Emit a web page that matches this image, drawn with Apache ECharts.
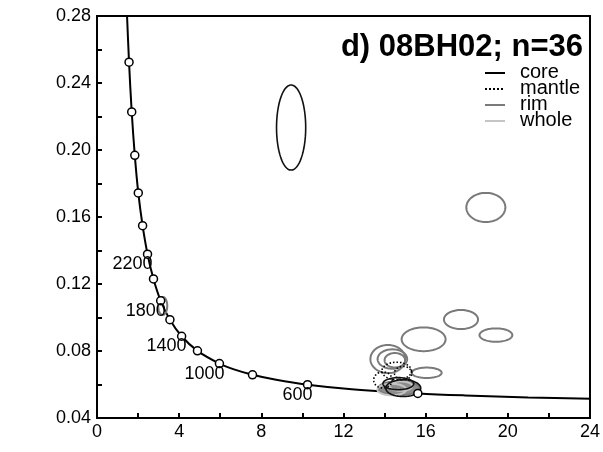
<!DOCTYPE html>
<html>
<head>
<meta charset="utf-8">
<script src="https://cdn.jsdelivr.net/npm/echarts@6/dist/echarts.min.js"></script>
<style>
html,body{margin:0;padding:0;background:#fff;}
#chart{width:603px;height:452px;}
</style>
</head>
<body>
<div id="chart"></div>
<script>
// ---- Data ----
const xTicks = [0, 4, 8, 12, 16, 20, 24];
const yTicks = [0.04, 0.08, 0.12, 0.16, 0.20, 0.24, 0.28];

// Concordia curve (238U/206Pb vs 207Pb/206Pb)
const concordiaX = [1.44, 1.56, 1.69, 1.84, 2.01, 2.22, 2.46, 2.75, 3.10, 3.55, 4.12, 4.89, 5.96, 6.67, 7.57, 8.72, 10.25, 12.40, 15.62, 17.92, 20.99, 24.30];
const concordiaY = [0.2867, 0.2524, 0.2227, 0.1968, 0.1744, 0.1548, 0.1378, 0.1230, 0.1100, 0.0987, 0.0888, 0.0801, 0.0725, 0.0690, 0.0658, 0.0628, 0.0599, 0.0572, 0.0547, 0.0535, 0.0523, 0.0514];

// Age marks on the concordia (Ma)
const markAges = [400, 600, 800, 1000, 1200, 1400, 1600, 1800, 2000, 2200, 2400, 2600, 2800, 3000, 3200];
const markX = [15.62, 10.25, 7.57, 5.96, 4.89, 4.12, 3.55, 3.10, 2.75, 2.46, 2.22, 2.01, 1.84, 1.69, 1.56];
const markY = [0.0547, 0.0599, 0.0658, 0.0725, 0.0801, 0.0888, 0.0987, 0.1100, 0.1230, 0.1378, 0.1548, 0.1744, 0.1968, 0.2227, 0.2524];
const labeledAges = [600, 1000, 1400, 1800, 2200];

// Error ellipses: [centre x, centre y, half-width x, half-height y]
const coreEllipses = [
  [9.45, 0.2134, 0.71, 0.0254],
  [14.91, 0.0578, 0.85, 0.0050],
  [14.67, 0.0605, 0.75, 0.0036]
];
const mantleEllipses = [
  [14.59, 0.0681, 0.72, 0.0052],
  [13.92, 0.0627, 0.45, 0.0048],
  [14.90, 0.0668, 0.42, 0.0040]
];
const rimEllipses = [
  [18.93, 0.1657, 0.95, 0.0087],
  [17.72, 0.0988, 0.83, 0.0057],
  [15.90, 0.0870, 1.07, 0.0071],
  [19.42, 0.0895, 0.80, 0.0040],
  [16.05, 0.0670, 0.73, 0.0031],
  [14.16, 0.0752, 0.85, 0.0084],
  [14.38, 0.0752, 0.72, 0.0058],
  [14.50, 0.0745, 0.50, 0.0043],
  [3.20, 0.1069, 0.22, 0.0054]
];
const rimFilledEllipses = [
  [14.70, 0.0578, 1.00, 0.0042]
];
const wholeEllipses = [
  [14.35, 0.0570, 0.70, 0.0034],
  [14.80, 0.0590, 0.55, 0.0028]
];

// ---- Chart ----
const chart = echarts.init(document.getElementById('chart'), null, {renderer: 'canvas'});
const FONT = '"Liberation Sans", Arial, Helvetica, sans-serif';

function ellipseSeries(name, data, stroke, lineWidth, dash, fill, z) {
  return {
    type: 'custom',
    name: name,
    coordinateSystem: 'cartesian2d',
    clip: true,
    z: z,
    encode: {x: 0, y: 1},
    data: data,
    renderItem: function (params, api) {
      const cx = api.value(0), cy = api.value(1), rx = api.value(2), ry = api.value(3);
      const pts = [];
      const N = 90;
      for (let i = 0; i < N; i++) {
        const t = i / N * 2 * Math.PI;
        pts.push(api.coord([cx + rx * Math.cos(t), cy + ry * Math.sin(t)]));
      }
      return {
        type: 'polygon',
        shape: {points: pts},
        style: {
          fill: fill || 'none',
          stroke: stroke,
          lineWidth: lineWidth,
          lineDash: dash || null
        }
      };
    }
  };
}

const curveData = concordiaX.map((x, i) => [x, concordiaY[i]]);
const markData = markX.map((x, i) => {
  const age = markAges[i];
  return {
    value: [x, markY[i]],
    label: {show: labeledAges.indexOf(age) >= 0, formatter: String(age)}
  };
});

const option = {
  animation: false,
  backgroundColor: '#fff',
  grid: {
    left: 97, right: 11, top: 16, bottom: 34,
    show: true, borderColor: '#000', borderWidth: 2, backgroundColor: 'transparent'
  },
  xAxis: {
    type: 'value', min: 0, max: 24, interval: 4,
    axisLine: {show: true, onZero: false, lineStyle: {color: '#000', width: 2}},
    axisTick: {show: true, inside: true, length: 5, lineStyle: {color: '#000', width: 2}},
    minorTick: {show: true, splitNumber: 2, length: 5, lineStyle: {color: '#000', width: 2}},
    splitLine: {show: false},
    axisLabel: {color: '#000', fontSize: 18, fontFamily: FONT, margin: 5,
      formatter: v => (xTicks.indexOf(v) >= 0 ? String(v) : '')}
  },
  yAxis: {
    type: 'value', min: 0.04, max: 0.28, interval: 0.04,
    axisLine: {show: true, onZero: false, lineStyle: {color: '#000', width: 2}},
    axisTick: {show: true, inside: true, length: 5, lineStyle: {color: '#000', width: 2}},
    minorTick: {show: true, splitNumber: 2, length: 5, lineStyle: {color: '#000', width: 2}},
    splitLine: {show: false},
    axisLabel: {color: '#000', fontSize: 18, fontFamily: FONT, margin: 6,
      formatter: v => {
        const s = v.toFixed(2);
        return yTicks.some(t => t.toFixed(2) === s) ? s : '';
      }}
  },
  series: [
    {
      type: 'line', name: 'concordia', data: curveData, smooth: 0.35,
      showSymbol: false, symbol: 'none', clip: true, z: 2,
      lineStyle: {color: '#000', width: 2}
    },
    ellipseSeries('rim', rimEllipses, '#7a7a7a', 2, null, null, 3),
    ellipseSeries('rimFilled', rimFilledEllipses, '#7a7a7a', 2, null, '#8c8c8c', 3),
    ellipseSeries('whole', wholeEllipses, '#c4c4c4', 2, null, null, 4),
    ellipseSeries('mantle', mantleEllipses, '#000', 1.6, [1.5, 2], null, 5),
    ellipseSeries('core', coreEllipses, '#111', 1.6, null, null, 5),
    {
      type: 'scatter', name: 'ages', data: markData, z: 6,
      symbol: 'circle', symbolSize: 8,
      itemStyle: {color: '#fff', borderColor: '#000', borderWidth: 1.5, opacity: 1},
      label: {
        position: 'inside', align: 'right', verticalAlign: 'middle',
        offset: [5, 10], color: '#000', fontSize: 18, fontFamily: FONT,
        textBorderWidth: 0, textBorderColor: 'transparent'
      }
    }
  ],
  graphic: [
    {type: 'text', z: 10,
      style: {x: 583, y: 47, text: 'd) 08BH02; n=36', fill: '#000',
        font: 'bold 31px ' + FONT, align: 'right', verticalAlign: 'middle'}},
    {type: 'line', z: 10, shape: {x1: 485, y1: 73, x2: 505, y2: 73}, style: {stroke: '#000', lineWidth: 2}},
    {type: 'line', z: 10, shape: {x1: 485, y1: 89, x2: 505, y2: 89}, style: {stroke: '#000', lineWidth: 2, lineDash: [2, 2]}},
    {type: 'line', z: 10, shape: {x1: 485, y1: 105, x2: 505, y2: 105}, style: {stroke: '#7a7a7a', lineWidth: 2}},
    {type: 'line', z: 10, shape: {x1: 485, y1: 121, x2: 505, y2: 121}, style: {stroke: '#c4c4c4', lineWidth: 2}},
    {type: 'text', z: 10, style: {x: 520, y: 72, text: 'core', fill: '#000', font: '20px ' + FONT, verticalAlign: 'middle'}},
    {type: 'text', z: 10, style: {x: 520, y: 88, text: 'mantle', fill: '#000', font: '20px ' + FONT, verticalAlign: 'middle'}},
    {type: 'text', z: 10, style: {x: 520, y: 104, text: 'rim', fill: '#000', font: '20px ' + FONT, verticalAlign: 'middle'}},
    {type: 'text', z: 10, style: {x: 520, y: 120, text: 'whole', fill: '#000', font: '20px ' + FONT, verticalAlign: 'middle'}}
  ]
};
chart.setOption(option);
</script>
</body>
</html>
